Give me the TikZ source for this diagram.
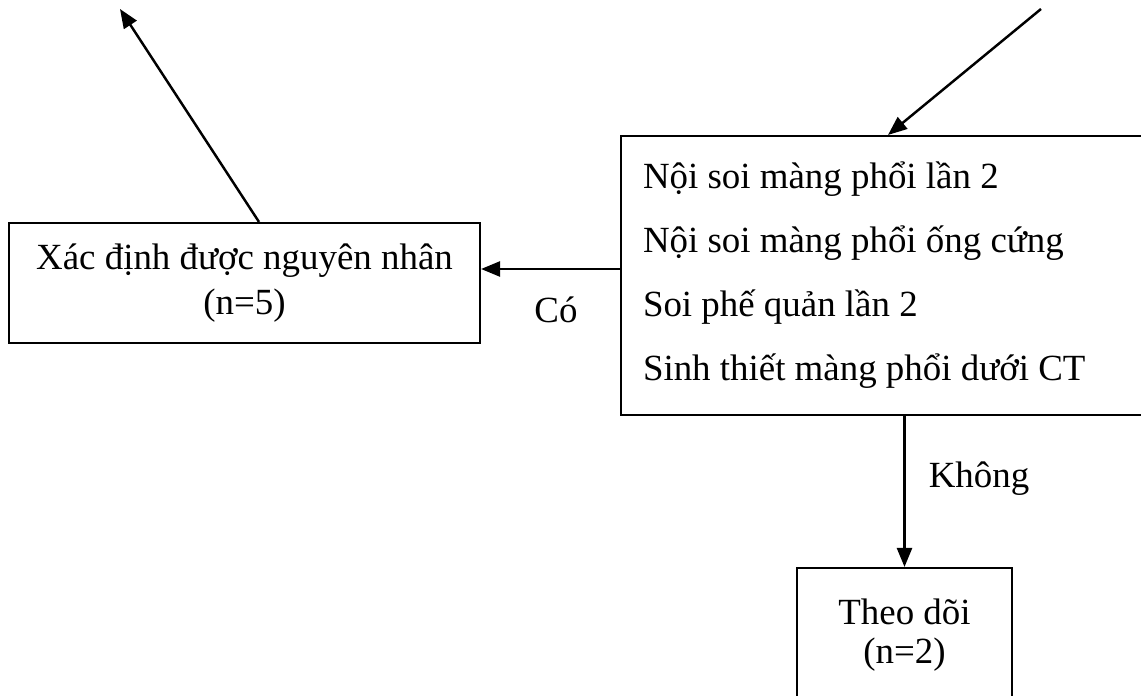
\documentclass[tikz,border=0pt]{standalone}
\usepackage{fontspec}
\setmainfont{Liberation Serif}
\usepackage{tikz}
\usetikzlibrary{arrows.meta}

\begin{document}
\begin{tikzpicture}[
        box/.style = {draw=black, line width=1.2pt, rectangle},
        arr/.style = {line width=1.4pt, -{Triangle[length=0.38cm, width=0.3cm]}},
        lbl/.style = {font = {\fontsize{21}{25}\selectfont}, black, anchor=base}
    ]
        \useasboundingbox (0, 0) rectangle (22.82, 13.9);
        \node[box, minimum width=9.42cm, minimum height=2.4cm, align=center,
              font = {\fontsize{21}{25.6}\selectfont}] (lbox) at (4.89, 8.24)
              {Xác định được nguyên nhân\\(n=5)};
        \node[box, minimum height=5.58cm, text width=10.1cm, inner xsep=0.44cm, align=left,
              font = {\fontsize{21}{36.4}\selectfont}] (rbox) at (17.91, 8.39)
              {\spaceskip=0pt Nội soi màng phổi lần 2\\Nội soi màng phổi ống cứng\\Soi phế quản lần 2\\Sinh thiết màng phổi dưới CT};
        \node[box, minimum width=4.3cm, minimum height=2.68cm, align=center,
              font = {\fontsize{21}{22}\selectfont}] (tbox) at (18.09, 1.2)
              {Theo dõi\\(n=2)};
        \coordinate (outL) at (2.4, 13.72);
        \coordinate (inR) at (20.82, 13.72);
        \coordinate (coR) at ([yshift=0.13cm]rbox.west);
        \draw[arr] ([xshift=0.29cm]lbox.north) -- (outL);
        \draw[arr] (inR) -- ([xshift=-0.15cm]rbox.north);
        \draw[arr] (coR) -- (lbox.east |- coR);
        \draw[arr] (rbox.south -| tbox.north) -- (tbox.north);
        \node[lbl] (labCo) at (11.12, 7.46) {Có};
        \node[lbl] (labKhong) at (19.58, 4.16) {Không};
    \end{tikzpicture}
\end{document}
